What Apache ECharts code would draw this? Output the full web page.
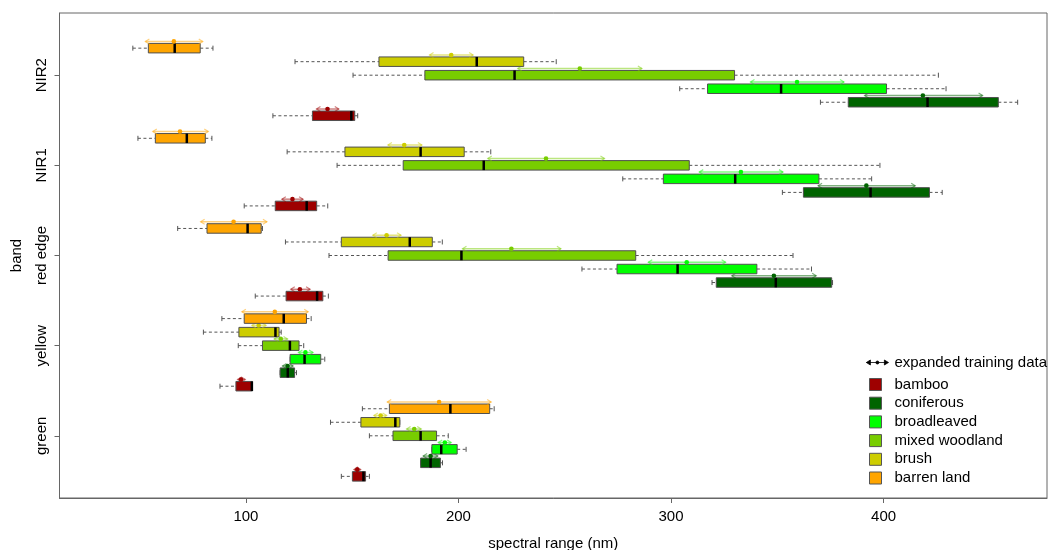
<!DOCTYPE html>
<html>
<head>
<meta charset="utf-8">
<script src="https://cdn.jsdelivr.net/npm/echarts@6/dist/echarts.min.js"></script>
<style>
html,body{margin:0;padding:0;background:#fff;}
#chart{width:1051px;height:550px;}
</style>
</head>
<body>
<div id="chart"></div>
<script>
// ---- data ----
const bands = ['green', 'yellow', 'red edge', 'NIR1', 'NIR2'];
const classes = ['bamboo', 'coniferous', 'broadleaved', 'mixed woodland', 'brush', 'barren land'];
const classColors = ['#9E0000', '#006400', '#00FF00', '#78CD00', '#CDCD00', '#FFA500'];
const xTicks = [100, 200, 300, 400];

// box stats per band (green, yellow, red edge, NIR1, NIR2): [min, q1, median, q3, max]
const bambooBox = [[144.9,150.1,155.3,156.3,158.1],[87.8,95.3,102.8,103.1,103.1],[104.4,118.9,133.5,136.2,138.8],[99.2,113.8,128.6,133.3,138.5],[112.7,131.3,149.6,151.2,152.6]];
const coniferousBox = [[182.2,182.2,186.9,191.5,192.5],[116.1,116.1,119.7,122.9,123.8],[319.3,321.3,349.3,375.6,376.0],[352.4,362.3,393.9,421.6,427.6],[370.3,383.4,420.7,454.0,463.1]];
const broadleavedBox = [[187.5,187.5,191.9,199.4,203.6],[120.8,120.8,127.6,135.2,137.1],[258.1,274.6,303.1,340.4,366.1],[277.3,296.4,330.2,369.6,394.4],[304.1,317.2,351.8,401.4,429.4]];
const mixedBox = [[158.1,169.2,182.2,189.7,195.2],[96.4,107.8,120.7,125.0,127.2],[139.1,166.9,201.4,283.4,357.4],[142.9,174.0,211.9,308.6,398.3],[150.4,184.2,226.4,329.9,425.8]];
const brushBox = [[139.8,154.1,170.3,172.4,172.4],[80.0,96.7,113.9,115.6,116.6],[118.6,144.9,177.1,187.7,192.4],[119.4,146.6,182.2,202.7,215.2],[123.1,162.6,208.6,230.7,246.0]];
const barrenBox = [[154.8,167.5,196.2,214.7,216.8],[88.7,99.2,117.8,128.5,130.7],[67.9,81.7,100.8,107.2,107.8],[49.2,57.4,72.2,80.9,84.0],[46.8,54.1,66.5,78.5,84.5]];

// expanded training data per band: [low, point, high]
const bambooExp = [[150.8,152.4,154.0],[96.1,97.7,99.7],[121.1,125.4,130.2],[116.9,121.9,126.9],[133.2,138.4,143.7]];
const coniferousExp = [[183.4,186.9,190.3],[117.2,119.6,122.2],[328.6,348.4,368.3],[369.2,391.9,414.9],[391.1,418.5,446.6]];
const broadleavedExp = [[190.5,193.6,196.6],[124.7,128.0,131.6],[289.3,307.4,325.7],[313.3,332.9,352.7],[337.4,359.3,381.4]];
const mixedExp = [[175.6,179.2,182.5],[113.3,116.4,119.6],[201.9,224.9,248.2],[213.8,241.2,268.7],[227.9,257.1,286.3]];
const brushExp = [[160.2,163.4,166.2],[102.8,106.0,109.5],[159.7,166.2,173.0],[166.8,174.5,182.8],[186.4,196.6,206.9]];
const barrenExp = [[166.5,190.9,215.4],[98.1,113.6,129.3],[78.7,94.2,109.9],[56.2,69.0,82.3],[52.7,66.1,79.7]];

const boxSets = [bambooBox, coniferousBox, broadleavedBox, mixedBox, brushBox, barrenBox];
const expSets = [bambooExp, coniferousExp, broadleavedExp, mixedExp, brushExp, barrenExp];

// ---- chart ----
function hexA(hex, a) {
  const n = parseInt(hex.slice(1), 16);
  return 'rgba(' + ((n >> 16) & 255) + ',' + ((n >> 8) & 255) + ',' + (n & 255) + ',' + a + ')';
}

function makeRender(color) {
  return function (params, api) {
    const y = api.value(0);
    const cy = api.coord([0, y])[1];
    const X = i => api.coord([api.value(i), y])[0];
    const wmin = X(1), q1 = X(2), med = X(3), q3 = X(4), wmax = X(5);
    const a1 = X(6), ap = X(7), a2 = X(8);
    const h = 9.5;
    const ay = cy - h / 2 - 2;
    const wc = '#555';
    const ac = hexA(color, 0.5);
    const hw = 4, hh = 2.5;
    return {
      type: 'group',
      children: [
        {type: 'line', shape: {x1: wmin, y1: cy, x2: q1, y2: cy}, style: {stroke: wc, lineWidth: 1, lineDash: [3, 2.5]}},
        {type: 'line', shape: {x1: q3, y1: cy, x2: wmax, y2: cy}, style: {stroke: wc, lineWidth: 1, lineDash: [3, 2.5]}},
        {type: 'line', shape: {x1: wmin, y1: cy - 2.5, x2: wmin, y2: cy + 2.5}, style: {stroke: wc, lineWidth: 1}},
        {type: 'line', shape: {x1: wmax, y1: cy - 2.5, x2: wmax, y2: cy + 2.5}, style: {stroke: wc, lineWidth: 1}},
        {type: 'rect', shape: {x: q1, y: cy - h / 2, width: Math.max(q3 - q1, 0.5), height: h}, style: {fill: color, stroke: '#505050', lineWidth: 1}},
        {type: 'line', shape: {x1: med, y1: cy - h / 2, x2: med, y2: cy + h / 2}, style: {stroke: '#000', lineWidth: 2.5}},
        {type: 'line', shape: {x1: a1, y1: ay, x2: a2, y2: ay}, style: {stroke: ac, lineWidth: 1.5}},
        {type: 'polyline', shape: {points: [[a1 + hw, ay - hh], [a1, ay], [a1 + hw, ay + hh]]}, style: {stroke: ac, fill: null, lineWidth: 1.2}},
        {type: 'polyline', shape: {points: [[a2 - hw, ay - hh], [a2, ay], [a2 - hw, ay + hh]]}, style: {stroke: ac, fill: null, lineWidth: 1.2}},
        {type: 'circle', shape: {cx: ap, cy: ay, r: 2.3}, style: {fill: color}}
      ]
    };
  };
}

const series = classes.map((name, ci) => {
  const off = (ci - 3) * 0.15;
  const data = bands.map((b, bi) => {
    const s = boxSets[ci][bi], e = expSets[ci][bi];
    return [bi + off, s[0], s[1], s[2], s[3], s[4], e[0], e[1], e[2]];
  });
  return {
    name: name,
    type: 'custom',
    renderItem: makeRender(classColors[ci]),
    itemStyle: {color: classColors[ci], borderColor: '#555', borderWidth: 1},
    encode: {y: 0, x: [1, 2, 3, 4, 5, 6, 7, 8]},
    data: data,
    silent: true
  };
});

series.unshift({
  name: 'expanded training data',
  type: 'line',
  data: [],
  itemStyle: {color: '#000', borderColor: '#000', borderWidth: 1}
});

const squareIcon = 'path://M0,0 M23,12 M3,0 L15,0 L15,12 L3,12 Z';
const arrowIcon = 'path://M0,0 M23,12 M0,6 L22,6 M4,3.5 L0,6 L4,8.5 Z M18,3.5 L22,6 L18,8.5 Z M9.5,6 A1.5,1.5 0 1 0 12.5,6 A1.5,1.5 0 1 0 9.5,6 Z';

const font = 'Liberation Sans, Arial, sans-serif';
const legendBase = {
  orient: 'vertical',
  left: 866,
  padding: 0,
  itemWidth: 23,
  itemHeight: 12,
  itemGap: 3.7,
  textStyle: {fontSize: 15, color: '#000', fontFamily: font},
  selectedMode: false
};

const option = {
  animation: false,
  backgroundColor: '#fff',
  grid: {left: 59.5, right: 4, top: 13, bottom: 52, show: true, borderColor: '#666', borderWidth: 1, backgroundColor: 'transparent', outerBoundsMode: 'none', containLabel: false},
  legend: [
    Object.assign({}, legendBase, {
      top: 355,
      data: [{name: 'expanded training data', icon: arrowIcon, itemStyle: {color: '#000', borderColor: '#000', borderWidth: 0.8}}]
    }),
    Object.assign({}, legendBase, {
      top: 377,
      data: classes.map((c, i) => ({name: c, icon: squareIcon, itemStyle: {color: classColors[i], borderColor: '#555', borderWidth: 1}}))
    })
  ],
  xAxis: {
    type: 'value',
    min: 12.3,
    max: 476.9,
    name: 'spectral range (nm)',
    nameLocation: 'middle',
    nameGap: 38,
    nameTextStyle: {fontSize: 15, color: '#000', fontFamily: font},
    axisLine: {show: true, onZero: false, lineStyle: {color: '#666', width: 1}},
    splitLine: {show: false},
    axisTick: {show: true, length: 5, lineStyle: {color: '#666', width: 1}, customValues: xTicks},
    axisLabel: {fontSize: 15, color: '#000', fontFamily: font, margin: 11, customValues: xTicks}
  },
  yAxis: {
    type: 'value',
    min: -0.69,
    max: 4.69,
    name: 'band',
    nameLocation: 'middle',
    nameGap: 35,
    nameTextStyle: {fontSize: 15, color: '#000', fontFamily: font},
    axisLine: {show: true, onZero: false, lineStyle: {color: '#666', width: 1}},
    splitLine: {show: false},
    axisTick: {show: true, length: 5, lineStyle: {color: '#666', width: 1}, customValues: bands.map((b, i) => i)},
    axisLabel: {
      fontSize: 15, color: '#000', fontFamily: font, rotate: 90, margin: 10,
      customValues: bands.map((b, i) => i),
      formatter: v => bands[Math.round(v)]
    }
  },
  series: series
};

const chart = echarts.init(document.getElementById('chart'), null, {renderer: 'canvas'});
chart.setOption(option);
</script>
</body>
</html>
